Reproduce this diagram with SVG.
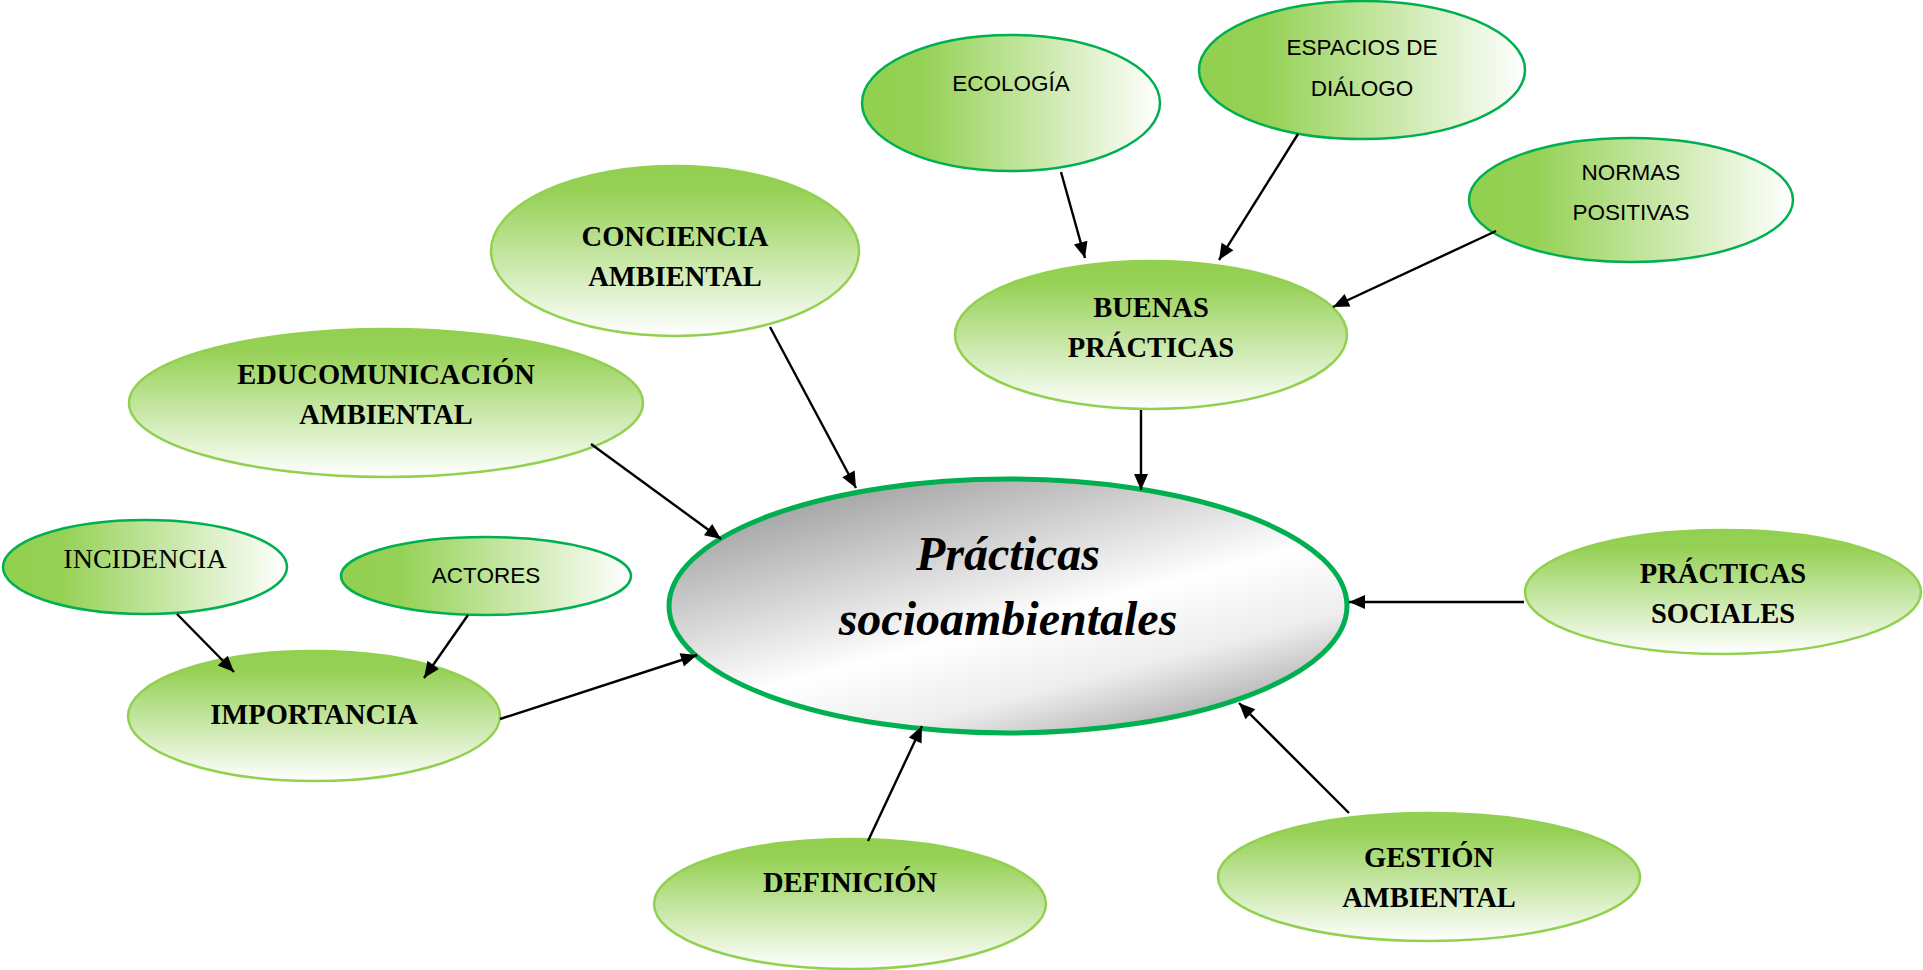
<svg xmlns="http://www.w3.org/2000/svg" width="1923" height="970" viewBox="0 0 1923 970">
  <defs>
    <linearGradient id="gSide" x1="0" y1="0" x2="1" y2="0">
      <stop offset="0" stop-color="#92D050"/>
      <stop offset="0.2" stop-color="#95D155"/>
      <stop offset="1" stop-color="#FFFFFF"/>
    </linearGradient>
    <linearGradient id="gTop" x1="0" y1="0" x2="0" y2="1">
      <stop offset="0" stop-color="#92D050"/>
      <stop offset="0.15" stop-color="#96D156"/>
      <stop offset="1" stop-color="#FFFFFF"/>
    </linearGradient>
    <linearGradient id="gCore" x1="0.15" y1="0" x2="0.85" y2="1">
      <stop offset="0" stop-color="#969696"/>
      <stop offset="0.55" stop-color="#FFFFFF"/>
      <stop offset="0.75" stop-color="#EDEDED"/>
      <stop offset="1" stop-color="#9E9E9E"/>
    </linearGradient>
    <marker id="arrow" viewBox="0 0 16 14" refX="16" refY="7" markerWidth="16" markerHeight="14" markerUnits="userSpaceOnUse" orient="auto" style="overflow:visible">
      <path d="M0,0 L16,7 L0,14 z" fill="#000"/>
    </marker>
  </defs>
  <style>
    .side { fill: url(#gSide); stroke: #00B050; stroke-width: 2.5; }
    .top { fill: url(#gTop); stroke: #92D050; stroke-width: 2.5; }
    .core { fill: url(#gCore); stroke: #00B050; stroke-width: 5; }
    .sans { font-family: "Liberation Sans", Arial, sans-serif; font-size: 22.5px; fill: #000; text-anchor: middle; }
    .serif { font-family: "Liberation Serif", "Times New Roman", serif; font-size: 28px; fill: #000; text-anchor: middle; }
    .bold { font-family: "Liberation Serif", "Times New Roman", serif; font-size: 28.5px; font-weight: bold; fill: #000; text-anchor: middle; }
    .title { font-family: "Liberation Serif", "Times New Roman", serif; font-size: 48px; font-weight: bold; font-style: italic; fill: #000; text-anchor: middle; }
    .link { stroke: #000; stroke-width: 2.4; fill: none; }
  </style>
  <rect width="1923" height="970" fill="#FFFFFF"/>

  <!-- central concept -->
  <g id="node-practicas">
    <ellipse class="core" cx="1008" cy="606" rx="339" ry="127"/>
    <text class="title" x="1008" y="570">Prácticas</text>
    <text class="title" x="1008" y="635">socioambientales</text>
  </g>

  <!-- upper cluster -->
  <g id="node-ecologia">
    <ellipse class="side" cx="1011" cy="103" rx="149" ry="68"/>
    <text class="sans" x="1011" y="91">ECOLOGÍA</text>
  </g>
  <g id="node-espacios">
    <ellipse class="side" cx="1362" cy="70" rx="163" ry="69"/>
    <text class="sans" x="1362" y="55">ESPACIOS DE</text>
    <text class="sans" x="1362" y="96">DIÁLOGO</text>
  </g>
  <g id="node-normas">
    <ellipse class="side" cx="1631" cy="200" rx="162" ry="62"/>
    <text class="sans" x="1631" y="180">NORMAS</text>
    <text class="sans" x="1631" y="220">POSITIVAS</text>
  </g>
  <g id="node-buenas">
    <ellipse class="top" cx="1151" cy="335" rx="196" ry="74"/>
    <text class="bold" x="1151" y="317">BUENAS</text>
    <text class="bold" x="1151" y="357">PRÁCTICAS</text>
  </g>
  <g id="node-conciencia">
    <ellipse class="top" cx="675" cy="251" rx="184" ry="85"/>
    <text class="bold" x="675" y="246">CONCIENCIA</text>
    <text class="bold" x="675" y="286">AMBIENTAL</text>
  </g>
  <g id="node-educomunicacion">
    <ellipse class="top" cx="386" cy="403" rx="257" ry="74"/>
    <text class="bold" x="386" y="384">EDUCOMUNICACIÓN</text>
    <text class="bold" x="386" y="424">AMBIENTAL</text>
  </g>

  <!-- left cluster -->
  <g id="node-incidencia">
    <ellipse class="side" cx="145" cy="567" rx="142" ry="47"/>
    <text class="serif" x="145" y="568">INCIDENCIA</text>
  </g>
  <g id="node-actores">
    <ellipse class="side" cx="486" cy="576" rx="145" ry="39"/>
    <text class="sans" x="486" y="583">ACTORES</text>
  </g>
  <g id="node-importancia">
    <ellipse class="top" cx="314" cy="716" rx="186" ry="65"/>
    <text class="bold" x="314" y="724">IMPORTANCIA</text>
  </g>

  <!-- right and lower nodes -->
  <g id="node-sociales">
    <ellipse class="top" cx="1723" cy="592" rx="198" ry="62"/>
    <text class="bold" x="1723" y="583">PRÁCTICAS</text>
    <text class="bold" x="1723" y="623">SOCIALES</text>
  </g>
  <g id="node-gestion">
    <ellipse class="top" cx="1429" cy="877" rx="211" ry="64"/>
    <text class="bold" x="1429" y="867">GESTIÓN</text>
    <text class="bold" x="1429" y="907">AMBIENTAL</text>
  </g>
  <g id="node-definicion">
    <ellipse class="top" cx="850" cy="904" rx="196" ry="65"/>
    <text class="bold" x="850" y="892">DEFINICIÓN</text>
  </g>

  <!-- connectors -->
  <g id="connectors">
    <line class="link" x1="1061" y1="172" x2="1085" y2="258" marker-end="url(#arrow)"/>
    <line class="link" x1="1298" y1="134" x2="1219" y2="260" marker-end="url(#arrow)"/>
    <line class="link" x1="1496" y1="231" x2="1333" y2="307" marker-end="url(#arrow)"/>
    <line class="link" x1="1141" y1="410" x2="1141" y2="490" marker-end="url(#arrow)"/>
    <line class="link" x1="770" y1="327" x2="856" y2="488" marker-end="url(#arrow)"/>
    <line class="link" x1="591" y1="444" x2="721" y2="539" marker-end="url(#arrow)"/>
    <line class="link" x1="177" y1="614" x2="234" y2="672" marker-end="url(#arrow)"/>
    <line class="link" x1="468" y1="615" x2="424" y2="678" marker-end="url(#arrow)"/>
    <line class="link" x1="500" y1="719" x2="697" y2="655" marker-end="url(#arrow)"/>
    <line class="link" x1="1524" y1="602" x2="1349" y2="602" marker-end="url(#arrow)"/>
    <line class="link" x1="1349" y1="813" x2="1239" y2="703" marker-end="url(#arrow)"/>
    <line class="link" x1="868" y1="841" x2="922" y2="726" marker-end="url(#arrow)"/>
  </g>
</svg>
